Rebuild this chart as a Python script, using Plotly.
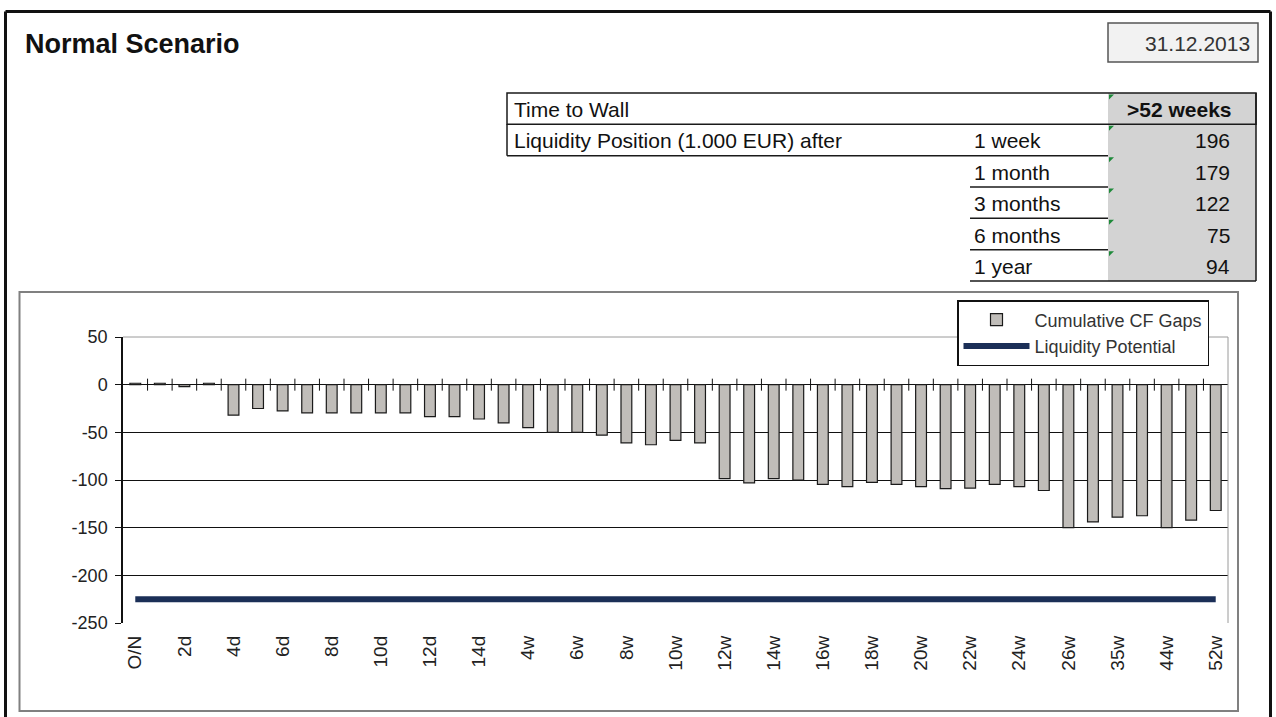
import plotly.graph_objects as go

# ---------------- data ----------------
categories = ["O/N", "1d", "2d", "3d", "4d", "5d", "6d", "7d", "8d", "9d", "10d", "11d",
              "12d", "13d", "14d", "3w", "4w", "5w", "6w", "7w", "8w", "9w", "10w", "11w",
              "12w", "13w", "14w", "15w", "16w", "17w", "18w", "19w", "20w", "21w", "22w",
              "23w", "24w", "25w", "26w", "30w", "35w", "39w", "44w", "48w", "52w"]

cumulative_cf_gaps = [1.5, 1.5, -2.0, 1.5, -32.0, -25.0, -27.5, -29.5, -29.5, -29.5, -29.5, -29.5,
                      -33.5, -33.5, -36.0, -40.0, -45.0, -50.0, -50.0, -53.0, -61.0, -63.0, -58.5, -61.0,
                      -98.5, -103.0, -98.5, -100.0, -104.5, -107.0, -102.5, -104.5, -107.0, -109.0, -108.5,
                      -104.5, -107.0, -111.0, -150.0, -144.0, -139.0, -137.5, -150.0, -142.0, -132.0]

liquidity_potential = [-225, -225, -225, -225, -225, -225, -225, -225, -225, -225, -225, -225,
                       -225, -225, -225, -225, -225, -225, -225, -225, -225, -225, -225, -225,
                       -225, -225, -225, -225, -225, -225, -225, -225, -225, -225, -225,
                       -225, -225, -225, -225, -225, -225, -225, -225, -225, -225]

tick_labels = ["O/N", "2d", "4d", "6d", "8d", "10d", "12d", "14d", "4w", "6w", "8w", "10w",
               "12w", "14w", "16w", "18w", "20w", "22w", "24w", "26w", "35w", "44w", "52w"]

y_ticks = [50, 0, -50, -100, -150, -200, -250]
y_tick_text = ["50", "0", "-50", "-100", "-150", "-200", "-250"]

title_text = "Normal Scenario"
report_date = "31.12.2013"
time_to_wall_label = "Time to Wall"
time_to_wall_value = ">52 weeks"
position_label = "Liquidity Position (1.000 EUR) after"
horizons = ["1 week", "1 month", "3 months", "6 months", "1 year"]
positions = [196, 179, 122, 75, 94]

# ---------------- geometry (pixels) ----------------
FW, FH = 1276, 717
L, R, T, B = 123, 1228, 337, 623
PW, PH = R - L, B - T


def px(x):
    return (x - L) / PW


def py(y):
    return (B - y) / PH


FONT = "Liberation Sans, Arial, sans-serif"
BAR_FILL = "#C0BDB9"
NAVY = "#1B2F57"

fig = go.Figure()

fig.add_trace(go.Bar(
    x=categories, y=cumulative_cf_gaps, name="Cumulative CF Gaps",
    marker=dict(color=BAR_FILL, line=dict(color="#1A1A1A", width=1.2)),
    width=0.44,
))
fig.add_trace(go.Scatter(
    x=categories, y=liquidity_potential, name="Liquidity Potential",
    mode="lines", line=dict(color=NAVY, width=6),
))

shapes = []

# cross tick marks on the category axis (at y = 0, between categories)
for k in range(len(categories) - 1):
    shapes.append(dict(type="line", xref="x", yref="y", x0=k + 0.5, x1=k + 0.5,
                       ysizemode="pixel", yanchor=0, y0=-6, y1=6,
                       line=dict(color="#111111", width=1), layer="above"))

# plot-area border (top & right, gray)
shapes.append(dict(type="line", xref="x domain", yref="y domain", x0=0, x1=1, y0=1, y1=1,
                   line=dict(color="#9A9A9A", width=1), layer="above"))
shapes.append(dict(type="line", xref="x domain", yref="y domain", x0=1, x1=1, y0=0, y1=1,
                   line=dict(color="#9A9A9A", width=1), layer="above"))

# outer frame
OUT = dict(color="#111111", width=3)
shapes.append(dict(type="line", xref="paper", yref="paper", x0=px(5.5), x1=px(5.5),
                   y0=py(11.5), y1=py(730), line=OUT))
shapes.append(dict(type="line", xref="paper", yref="paper", x0=px(5.5), x1=px(1270.5),
                   y0=py(11.5), y1=py(11.5), line=OUT))
shapes.append(dict(type="line", xref="paper", yref="paper", x0=px(1270.5), x1=px(1270.5),
                   y0=py(11.5), y1=py(730), line=OUT))

# chart frame
shapes.append(dict(type="rect", xref="paper", yref="paper", x0=px(19.5), x1=px(1238),
                   y0=py(292), y1=py(711), line=dict(color="#808080", width=2)))

# date box
shapes.append(dict(type="rect", xref="paper", yref="paper", x0=px(1108), x1=px(1258),
                   y0=py(23), y1=py(62), fillcolor="#F2F2F2",
                   line=dict(color="#555555", width=1.5), layer="below"))

# table
xa, xb, xc, xd = 507, 970, 1108, 1256
ys = [93, 124.3, 155.7, 187, 218.3, 249.7, 281]
LINE = dict(color="#1A1A1A", width=1.5)
shapes.append(dict(type="rect", xref="paper", yref="paper", x0=px(xc), x1=px(xd),
                   y0=py(ys[0]), y1=py(ys[6]), fillcolor="#D3D3D3", line=dict(width=0),
                   layer="below"))
shapes.append(dict(type="rect", xref="paper", yref="paper", x0=px(xa), x1=px(xd),
                   y0=py(ys[0]), y1=py(ys[1]), line=LINE))
shapes.append(dict(type="line", xref="paper", yref="paper", x0=px(xa), x1=px(xa),
                   y0=py(ys[1]), y1=py(ys[2]), line=LINE))
shapes.append(dict(type="line", xref="paper", yref="paper", x0=px(xa), x1=px(xc),
                   y0=py(ys[2]), y1=py(ys[2]), line=LINE))
for k in range(3, 6):
    shapes.append(dict(type="line", xref="paper", yref="paper", x0=px(xb), x1=px(xc),
                       y0=py(ys[k]), y1=py(ys[k]), line=LINE))
shapes.append(dict(type="line", xref="paper", yref="paper", x0=px(xb), x1=px(xd),
                   y0=py(ys[6]), y1=py(ys[6]), line=LINE))
shapes.append(dict(type="line", xref="paper", yref="paper", x0=px(xd), x1=px(xd),
                   y0=py(ys[0]), y1=py(ys[6]), line=LINE))
# small green markers in gray cells
for k in range(6):
    t = ys[k] + 1.5
    path = "M {} {} L {} {} L {} {} Z".format(px(xc + 1), py(t), px(xc + 6), py(t),
                                             px(xc + 1), py(t + 5))
    shapes.append(dict(type="path", xref="paper", yref="paper", path=path,
                       fillcolor="#1E8A3A", line=dict(width=0)))

annotations = []


def txt(text, x, y, anchor="left", size=21, bold=False, color="#111111"):
    annotations.append(dict(
        text="<b>{}</b>".format(text) if bold else text,
        xref="paper", yref="paper", x=px(x), y=py(y), xanchor=anchor, yanchor="middle",
        showarrow=False, font=dict(family=FONT, size=size, color=color)))


txt(title_text, 23, 44, size=27, bold=True)
txt(report_date, 1252, 43.5, anchor="right", size=21, color="#333333")
txt(time_to_wall_label, 512, (ys[0] + ys[1]) / 2 + 1)
txt(time_to_wall_value, 1234, (ys[0] + ys[1]) / 2 + 1, anchor="right", bold=True)
txt(position_label, 512, (ys[1] + ys[2]) / 2 + 1)
for k, (h, v) in enumerate(zip(horizons, positions)):
    yc = (ys[k + 1] + ys[k + 2]) / 2 + 1
    txt(h, 972, yc)
    txt(str(v), 1232, yc, anchor="right")

fig.update_layout(
    width=FW, height=FH,
    margin=dict(l=L, r=FW - R, t=T, b=FH - B, autoexpand=False),
    paper_bgcolor="white", plot_bgcolor="white",
    bargap=0.56,
    font=dict(family=FONT, color="#222222"),
    showlegend=True,
    legend=dict(x=px(957), y=py(300), xanchor="left", yanchor="top",
                bordercolor="#111111", borderwidth=1.5, bgcolor="white",
                font=dict(family=FONT, size=18, color="#333333"),
                itemwidth=66, tracegroupgap=0),
    shapes=shapes,
    annotations=annotations,
    xaxis=dict(
        type="category", range=[-0.5, len(categories) - 0.5],
        tickmode="array",
        tickvals=[categories.index(t) for t in tick_labels],
        ticktext=tick_labels,
        tickangle=-90, ticks="", showgrid=False, showline=False, zeroline=False,
        tickfont=dict(family=FONT, size=19, color="#222222"),
        ticklabelstandoff=8,
    ),
    yaxis=dict(
        range=[y_ticks[-1], y_ticks[0]], tickmode="array", tickvals=y_ticks,
        ticktext=y_tick_text,
        showgrid=True, gridcolor="#111111", gridwidth=1,
        zeroline=False, showline=True, linecolor="#111111", linewidth=1.5,
        ticks="outside", ticklen=6, tickcolor="#111111",
        tickfont=dict(family=FONT, size=18, color="#222222"),
        ticklabelstandoff=4,
    ),
)

fig.write_html("out.html")
